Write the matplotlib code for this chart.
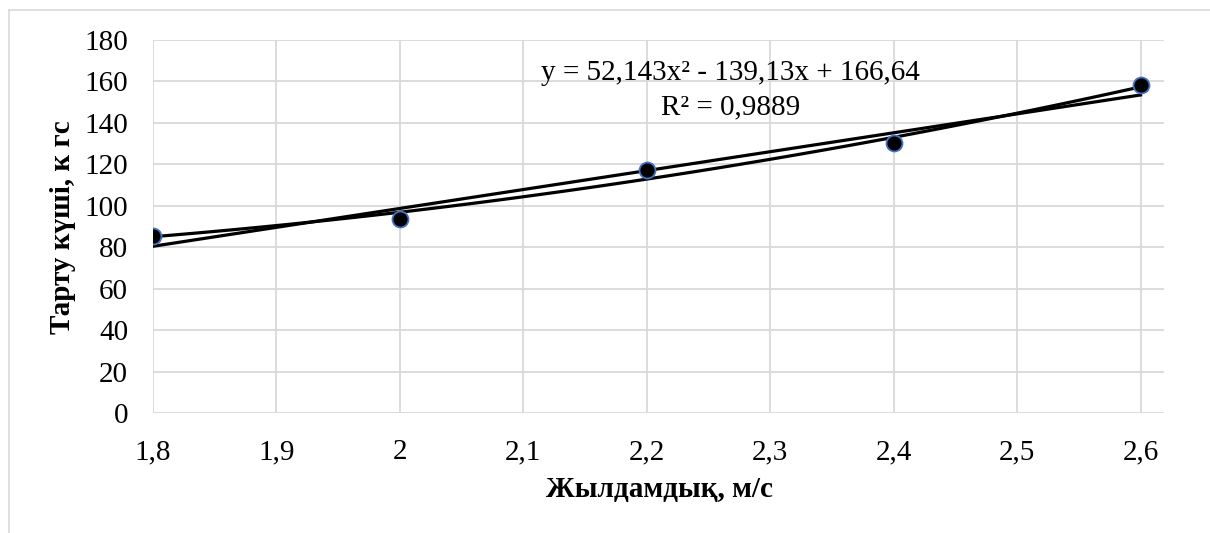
import numpy as np
import matplotlib
matplotlib.use('Agg')
import matplotlib.pyplot as plt
from matplotlib.lines import Line2D

plt.rcParams['font.family'] = ['Liberation Serif', 'DejaVu Serif']

# speed vs traction force
speed = [1.8, 2.0, 2.2, 2.4, 2.6]
force = [85.5, 93.6, 117.3, 130.4, 158.3]

# polynomial trendline coefficients as printed on the chart
poly_coef = [52.143, -139.13, 166.64]
eq_text = 'y = 52,143x² - 139,13x + 166,64'
r2_text = 'R² = 0,9889'

xticks = [1.8, 1.9, 2.0, 2.1, 2.2, 2.3, 2.4, 2.5, 2.6]
xtick_labels = ['1,8', '1,9', '2', '2,1', '2,2', '2,3', '2,4', '2,5', '2,6']
yticks = list(range(0, 181, 20))

W, H = 1210, 533
fig = plt.figure(figsize=(W / 100, H / 100), dpi=100)
ax = fig.add_axes([153 / W, 1 - 413.3 / H, (1164 - 153) / W, (413.3 - 40) / H])

xs = np.linspace(speed[0], speed[-1], 100)
lin_coef = np.polyfit(speed, force, 1)
ax.plot(xs, np.polyval(lin_coef, xs), color='black', lw=2.3, zorder=3)
ax.plot(xs, np.polyval(poly_coef, xs), color='black', lw=2.3, zorder=3)
ax.plot(speed, force, ls='none', marker='o', ms=11.5, mfc='black',
        mec='#4472C4', mew=1.3, zorder=4)

ax.set_xlim(1.8, 2.619)
ax.set_ylim(0, 180)
ax.set_xticks(xticks)
ax.set_xticklabels(xtick_labels)
ax.set_yticks(yticks)
ax.grid(True, color='#d9d9d9', lw=1.3)
ax.set_axisbelow(True)
for s in ax.spines.values():
    s.set_visible(False)
ax.tick_params(length=0, labelsize=21)
ax.tick_params(axis='x', pad=18.5)
ax.tick_params(axis='y', pad=18)

ax.text(2.268, 164, eq_text, fontsize=21, ha='center', va='center')
ax.text(2.268, 147.7, r2_text, fontsize=21, ha='center', va='center')

fig.text(659 / W, 1 - 490 / H, 'Жылдамдық, м/с', fontsize=21,
         fontweight='bold', ha='center', va='center')
fig.text(62 / W, 1 - 227.5 / H, 'Тарту күші, к гс', fontsize=21,
         fontweight='bold', ha='center', va='center', rotation=90)

# chart area border (top and left edges visible)
fig.add_artist(Line2D([9 / W, 9 / W], [0, 1 - 10 / H], color='#d9d9d9', lw=1.2))
fig.add_artist(Line2D([9 / W, 1], [1 - 10 / H, 1 - 10 / H], color='#d9d9d9', lw=1.2))

fig.savefig('out.png', dpi=100)
